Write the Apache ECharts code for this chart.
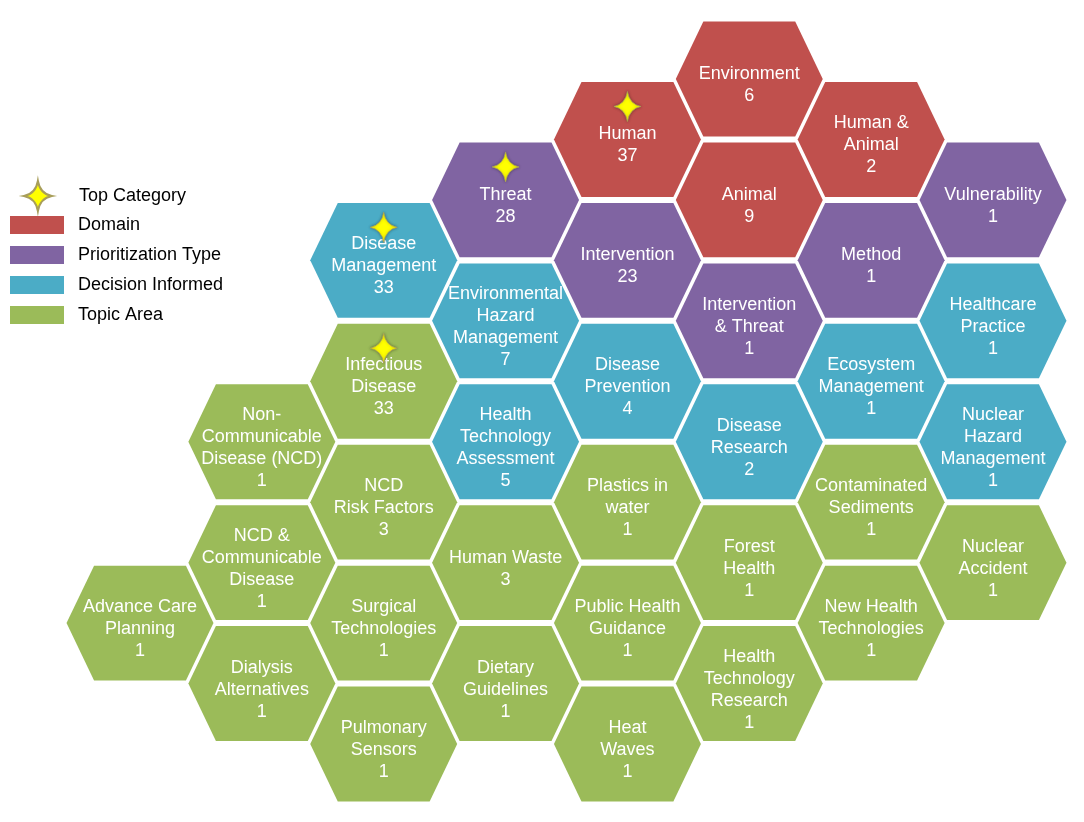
<!DOCTYPE html>
<html>
<head>
<meta charset="utf-8">
<title>Hexagon categories</title>
<script src="https://cdn.jsdelivr.net/npm/echarts@6/dist/echarts.min.js"></script>
<style>
html, body { margin: 0; padding: 0; background: #fff; }
#chart { width: 1084px; height: 822px; }
</style>
</head>
<body>
<div id="chart"></div>
<script>
// categories of the legend
const categories = ['Domain', 'Prioritization Type', 'Decision Informed', 'Topic Area'];
const categoryColors = ['#c0504d', '#8064a2', '#4bacc6', '#9bbb59'];

// one entry per hexagon
const hexLabels = [
    'Environment', 'Human', 'Human &\nAnimal', 'Animal',
    'Threat', 'Vulnerability', 'Intervention', 'Method', 'Intervention\n& Threat',
    'Disease\nManagement', 'Environmental\nHazard\nManagement', 'Healthcare\nPractice',
    'Disease\nPrevention', 'Ecosystem\nManagement', 'Health\nTechnology\nAssessment',
    'Disease\nResearch', 'Nuclear\nHazard\nManagement',
    'Infectious\nDisease', 'Non-\nCommunicable\nDisease (NCD)', 'NCD\nRisk Factors',
    'Plastics in\nwater', 'Contaminated\nSediments', 'NCD &\nCommunicable\nDisease',
    'Human Waste', 'Forest\nHealth', 'Nuclear\nAccident', 'Advance Care\nPlanning',
    'Surgical\nTechnologies', 'Public Health\nGuidance', 'New Health\nTechnologies',
    'Dialysis\nAlternatives', 'Dietary\nGuidelines', 'Health\nTechnology\nResearch',
    'Pulmonary\nSensors', 'Heat\nWaves'
];
const hexCounts = [
    6, 37, 2, 9,
    28, 1, 23, 1, 1,
    33, 7, 1, 4, 1, 5, 2, 1,
    33, 1, 3, 1, 1, 1, 3, 1, 1, 1, 1, 1, 1, 1, 1, 1, 1, 1
];
const hexCategory = [
    0, 0, 0, 0,
    1, 1, 1, 1, 1,
    2, 2, 2, 2, 2, 2, 2, 2,
    3, 3, 3, 3, 3, 3, 3, 3, 3, 3, 3, 3, 3, 3, 3, 3, 3, 3
];
// grid column and half-row of each hexagon
const hexColumn = [
    5, 4, 6, 5,
    3, 7, 4, 6, 5,
    2, 3, 7, 4, 6, 3, 5, 7,
    2, 1, 2, 4, 6, 1, 3, 5, 7, 0, 2, 4, 6, 1, 3, 5, 2, 4
];
const hexRow = [
    0, 1, 1, 2,
    2, 2, 3, 3, 4,
    3, 4, 4, 5, 5, 6, 6, 6,
    5, 6, 7, 7, 7, 8, 8, 8, 8, 9, 9, 9, 9, 10, 10, 10, 11, 11
];
const topCategory = ['Human', 'Threat', 'Disease\nManagement', 'Infectious\nDisease'];

const starPath = 'M50 0 Q58 46 100 54 Q58 62 50 108 Q42 62 0 54 Q42 46 50 0 Z';

function renderHex(params, api) {
    const c = api.coord([api.value(0), api.value(1)]);
    const unit = api.size([1, 1]);
    const hw = unit[0] * 0.603;
    const ht = unit[0] * 0.377;
    const hh = unit[1] * 0.95;
    const idx = api.value(2);
    const points = [
        [c[0] - hw, c[1]], [c[0] - ht, c[1] - hh], [c[0] + ht, c[1] - hh],
        [c[0] + hw, c[1]], [c[0] + ht, c[1] + hh], [c[0] - ht, c[1] + hh]
    ];
    return {
        type: 'group',
        children: [{
            type: 'polygon',
            shape: { points: points },
            style: { fill: api.visual('color') }
        }, {
            type: 'text',
            x: c[0],
            y: c[1] + 6,
            style: {
                text: hexLabels[idx] + '\n' + hexCounts[idx],
                fill: '#fff',
                font: '18px "Liberation Sans", Arial, sans-serif',
                align: 'center',
                verticalAlign: 'middle',
                lineHeight: 22
            }
        }]
    };
}

function renderStar(params, api) {
    const c = api.coord([api.value(0), api.value(1)]);
    return {
        type: 'path',
        shape: { pathData: starPath, x: c[0] - 13.5, y: c[1] - 33 - 15, width: 27, height: 30, layout: 'cover' },
        style: {
            fill: '#ffff00',
            stroke: '#a89e5a',
            lineWidth: 0.8,
            shadowBlur: 3,
            shadowColor: 'rgba(0,0,0,0.35)'
        }
    };
}

const series = categories.map((name, k) => ({
    name: name,
    type: 'custom',
    renderItem: renderHex,
    color: categoryColors[k],
    itemStyle: { color: categoryColors[k] },
    data: hexLabels.map((l, i) => [hexColumn[i], hexRow[i], i]).filter(d => hexCategory[d[2]] === k)
}));
series.push({
    name: 'Top Category',
    type: 'custom',
    renderItem: renderStar,
    z: 5,
    color: '#ffff00',
    itemStyle: { color: '#ffff00', borderColor: '#a89e5a', borderWidth: 0.8 },
    data: hexLabels.map((l, i) => [hexColumn[i], hexRow[i], i]).filter(d => topCategory.indexOf(hexLabels[d[2]]) >= 0)
});

const chart = echarts.init(document.getElementById('chart'));
chart.setOption({
    animation: false,
    backgroundColor: '#fff',
    grid: { left: 140, right: 91, top: 79, bottom: 78 },
    xAxis: { type: 'value', min: 0, max: 7, show: false },
    yAxis: { type: 'value', min: 0, max: 11, inverse: true, show: false },
    legend: [{
        data: [{ name: 'Top Category', icon: 'path://' + starPath }],
        left: 23,
        top: 180,
        padding: 0,
        itemWidth: 54,
        itemHeight: 30,
        selectedMode: false,
        textStyle: { fontSize: 18, color: '#000', fontFamily: '"Liberation Sans", Arial, sans-serif', padding: [12, 0, 0, 9] }
    }, {
        data: categories,
        orient: 'vertical',
        icon: 'rect',
        left: 10,
        top: 216,
        padding: 0,
        itemWidth: 54,
        itemHeight: 18,
        itemGap: 12,
        selectedMode: false,
        itemStyle: { borderWidth: 0 },
        textStyle: { fontSize: 18, lineHeight: 18, color: '#000', fontFamily: '"Liberation Sans", Arial, sans-serif', padding: [0, 0, 0, 9] }
    }],
    series: series
});
</script>
</body>
</html>
